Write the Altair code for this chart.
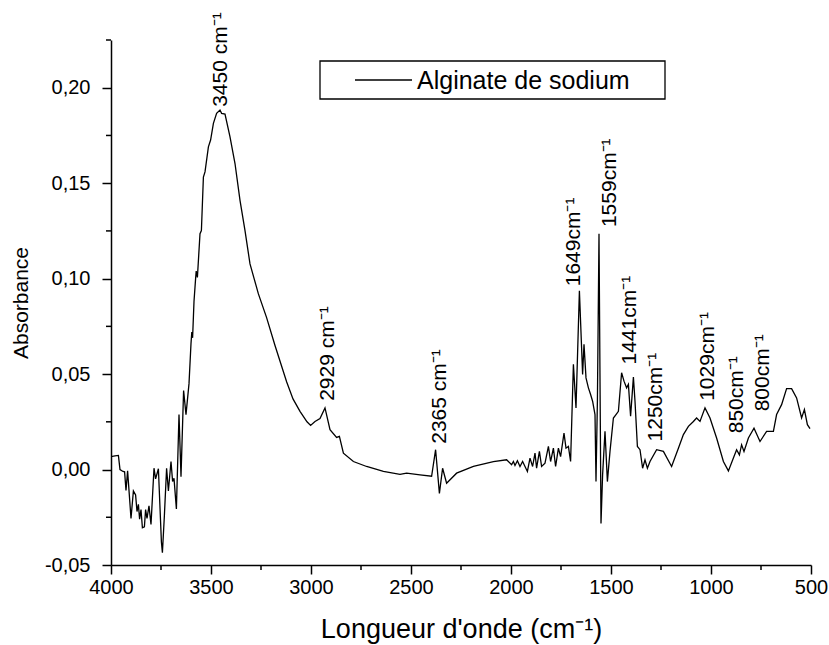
import altair as alt
import pandas as pd

# ---- spectrum ----
wavenumber = [
    4000, 3980, 3963, 3955, 3940, 3932, 3925, 3917, 3900, 3888, 3877, 3870, 3863, 3857,
    3850, 3843, 3833, 3827, 3820, 3810, 3800, 3785, 3777, 3763, 3748, 3743, 3733, 3722,
    3713, 3700, 3692, 3685, 3673, 3660, 3650, 3637, 3625, 3610, 3600, 3596, 3592, 3585,
    3577, 3574, 3568, 3555, 3548, 3538, 3530, 3513, 3502, 3488, 3472, 3455, 3447, 3430,
    3405, 3380, 3355, 3330, 3305, 3263, 3222, 3180, 3122, 3090, 3055, 3020, 3002, 2980,
    2955, 2930, 2905, 2872, 2858, 2838, 2788, 2722, 2638, 2555, 2522, 2455, 2397, 2377,
    2358, 2342, 2322, 2272, 2188, 2088, 2022, 1997, 1988, 1980, 1968, 1955, 1942, 1930,
    1918, 1905, 1892, 1880, 1872, 1858, 1847, 1830, 1813, 1802, 1788, 1777, 1763, 1752,
    1735, 1725, 1713, 1702, 1688, 1675, 1658, 1647, 1642, 1635, 1625, 1613, 1602, 1592,
    1580, 1575, 1568, 1560, 1550, 1542, 1530, 1518, 1505, 1488, 1475, 1463, 1447, 1435,
    1422, 1413, 1402, 1388, 1380, 1368, 1355, 1342, 1330, 1318, 1305, 1272, 1238, 1197,
    1163, 1138, 1113, 1088, 1072, 1055, 1030, 1005, 972, 938, 913, 888, 872, 858, 847,
    835, 813, 785, 755, 722, 688, 672, 647, 622, 597, 572, 547, 533, 518, 505,
]
absorbance = [
    0.0068, 0.0072, 0.0074, 0.0000, -0.0010, -0.0012, -0.0110, -0.0007, -0.0256, -0.0112,
    -0.0133, -0.0220, -0.0182, -0.0260, -0.0210, -0.0305, -0.0300, -0.0210, -0.0256, -0.0190,
    -0.0288, 0.0007, -0.0049, 0.0004, -0.0379, -0.0435, -0.0239, 0.0007, -0.0112, 0.0042,
    -0.0063, -0.0046, -0.0207, 0.0288, -0.0037, 0.0414, 0.0288, 0.0450, 0.0660, 0.0720,
    0.0690, 0.0880, 0.1000, 0.1040, 0.1006, 0.1235, 0.1252, 0.1532, 0.1559, 0.1690,
    0.1726, 0.1813, 0.1866, 0.1883, 0.1866, 0.1862, 0.1743, 0.1603, 0.1410, 0.1252,
    0.1077, 0.0920, 0.0796, 0.0650, 0.0460, 0.0370, 0.0305, 0.0250, 0.0231, 0.0252,
    0.0267, 0.0323, 0.0209, 0.0168, 0.0174, 0.0086, 0.0042, 0.0016, -0.0010, -0.0025,
    -0.0019, -0.0028, -0.0035, 0.0104, -0.0125, 0.0007, -0.0072, -0.0019, 0.0016, 0.0042,
    0.0051, 0.0025, 0.0042, 0.0021, 0.0046, 0.0016, 0.0042, 0.0016, -0.0010, 0.0060,
    0.0016, 0.0086, 0.0007, 0.0095, 0.0016, 0.0033, 0.0121, 0.0042, 0.0112, 0.0016,
    0.0112, 0.0068, 0.0191, 0.0112, 0.0121, 0.0042, 0.0551, 0.0323, 0.0936, 0.0638,
    0.0498, 0.0656, 0.0480, 0.0428, 0.0393, 0.0358, 0.0288, -0.0063, 0.0358, 0.1235,
    -0.0282, -0.0028, 0.0200, -0.0063, 0.0095, 0.0270, 0.0288, 0.0305, 0.0507, 0.0463,
    0.0428, 0.0446, 0.0279, 0.0484, 0.0358, 0.0121, 0.0104, 0.0007, 0.0051, 0.0007,
    0.0042, 0.0104, 0.0095, 0.0016, 0.0112, 0.0183, 0.0226, 0.0252, 0.0270, 0.0252,
    0.0323, 0.0270, 0.0165, 0.0042, -0.0007, 0.0060, 0.0104, 0.0077, 0.0130, 0.0095,
    0.0165, 0.0217, 0.0147, 0.0200, 0.0200, 0.0288, 0.0340, 0.0424, 0.0424, 0.0375,
    0.0270, 0.0314, 0.0235, 0.0214,
]

# ---- peak annotations ----
ann_wn = [3450, 2915, 2355, 1687, 1505, 1407, 1275, 1015, 872, 738]
ann_val = [0.190, 0.036, 0.0135, 0.096, 0.127, 0.055, 0.0147, 0.036, 0.019, 0.0305]
ann_text = ["3450 cm⁻¹", "2929 cm⁻¹", "2365 cm⁻¹", "1649cm⁻¹", "1559cm⁻¹",
            "1441cm⁻¹", "1250cm⁻¹", "1029cm⁻¹", "850cm⁻¹", "800cm⁻¹"]

# ---- axes ----
x_ticks = [4000, 3500, 3000, 2500, 2000, 1500, 1000, 500]
x_minor = [3750, 3250, 2750, 2250, 1750, 1250, 750]
y_ticks = [-0.05, 0.0, 0.05, 0.10, 0.15, 0.20]
y_minor = [-0.025, 0.025, 0.075, 0.125, 0.175, 0.225]
legend_label = ["Alginate de sodium"]

W, H = 700, 525
FONT = "Liberation Sans"

xscale = alt.Scale(domain=[500, 4000], reverse=True, nice=False, zero=False)
yscale = alt.Scale(domain=[-0.05, 0.225], nice=False, zero=False)

x_axis = alt.Axis(values=x_ticks, title="Longueur d'onde (cm⁻¹)", format="d",
                  titleFontSize=27, titlePadding=19, labelPadding=3, grid=False,
                  labelFlush=False)
y_axis = alt.Axis(values=y_ticks, title="Absorbance",
                  labelExpr="replace(replace(format(datum.value, '.2f'), '.', ','), '\u2212', '-')",
                  titleFontSize=21, titlePadding=13, labelPadding=12, grid=False,
                  labelFlush=False)

spec_df = pd.DataFrame({"wn": wavenumber, "abs": absorbance})
ann_df = pd.DataFrame({"wn": ann_wn, "abs": ann_val, "label": ann_text})

line = alt.Chart(spec_df).mark_line(color="black", strokeWidth=1.3, clip=True).encode(
    x=alt.X("wn:Q", scale=xscale, axis=x_axis),
    y=alt.Y("abs:Q", scale=yscale, axis=y_axis),
    order=alt.Order("wn:Q", sort="descending"),
)

xminor = alt.Chart(pd.DataFrame({"wn": x_minor})).mark_rule(color="black", strokeWidth=1.5).encode(
    x=alt.X("wn:Q", scale=xscale, axis=x_axis), y=alt.value(H), y2=alt.value(H + 5))
yminor = alt.Chart(pd.DataFrame({"abs": y_minor})).mark_rule(color="black", strokeWidth=1.5).encode(
    y=alt.Y("abs:Q", scale=yscale, axis=y_axis), x=alt.value(0), x2=alt.value(-5))

ann = alt.Chart(ann_df).mark_text(angle=270, align="left", baseline="middle",
                                  font=FONT, fontSize=21, color="black").encode(
    x=alt.X("wn:Q", scale=xscale, axis=x_axis),
    y=alt.Y("abs:Q", scale=yscale, axis=y_axis),
    text="label:N",
)

leg_df = pd.DataFrame({"label": legend_label})
leg_box = alt.Chart(leg_df).mark_rect(fill="white", stroke="black", strokeWidth=1.3).encode(
    x=alt.value(209), x2=alt.value(554), y=alt.value(21), y2=alt.value(59))
leg_line = alt.Chart(leg_df).mark_rule(color="black", strokeWidth=1.3).encode(
    x=alt.value(244), x2=alt.value(301), y=alt.value(40))
leg_text = alt.Chart(leg_df).mark_text(align="left", baseline="middle", font=FONT,
                                       fontSize=25, color="black").encode(
    x=alt.value(306), y=alt.value(41), text="label:N")

chart = alt.layer(line, xminor, yminor, ann, leg_box, leg_line, leg_text).properties(
    width=W, height=H,
    background="white",
    autosize=alt.AutoSizeParams(type="none"),
    padding={"left": 111, "top": 40, "right": 18, "bottom": 80},
).configure_view(strokeWidth=0).configure_axis(
    domainColor="black", domainWidth=1.5, tickColor="black", tickWidth=1.5, tickSize=9,
    labelFont=FONT, labelFontSize=20, labelColor="black",
    titleFont=FONT, titleFontWeight="normal", titleColor="black",
)

chart.save("out.html", embed_options={"renderer": "svg", "actions": False})
